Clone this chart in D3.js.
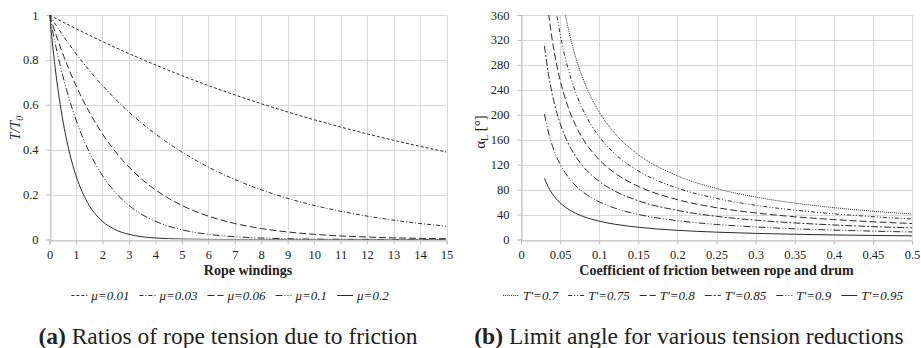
<!DOCTYPE html>
<html>
<head>
<meta charset="utf-8">
<script src="https://cdn.jsdelivr.net/npm/d3@7"></script>
<style>
  body { margin: 0; background: #fff; }
  svg { display: block; }
  text { fill: #222; }
</style>
</head>
<body>
<svg width="921" height="348"></svg>
<script>
// ---- panel (a): tension ratio vs rope windings
const windings = [0, 0.25, 0.5, 0.75, 1, 1.25, 1.5, 1.75, 2, 2.5, 3, 3.5, 4, 4.5, 5, 6, 7, 8, 9, 10, 11, 12, 13, 14, 15];
const muLabels = ["μ=0.01", "μ=0.03", "μ=0.06", "μ=0.1", "μ=0.2"];
const ratio001 = [1, 0.9844, 0.9691, 0.9540, 0.9391, 0.9245, 0.9101, 0.8959, 0.8819, 0.8546, 0.8282, 0.8026, 0.7778, 0.7537, 0.7304, 0.6859, 0.6442, 0.6049, 0.5681, 0.5335, 0.5010, 0.4705, 0.4419, 0.4150, 0.3897];
const ratio003 = [1, 0.9540, 0.9101, 0.8682, 0.8282, 0.7901, 0.7537, 0.7190, 0.6859, 0.6242, 0.5681, 0.5170, 0.4705, 0.4282, 0.3897, 0.3227, 0.2673, 0.2214, 0.1833, 0.1518, 0.1258, 0.1042, 0.0863, 0.0714, 0.0592];
const ratio006 = [1, 0.9101, 0.8282, 0.7537, 0.6859, 0.6242, 0.5681, 0.5170, 0.4705, 0.3897, 0.3227, 0.2673, 0.2214, 0.1833, 0.1518, 0.1042, 0.0714, 0.0490, 0.0336, 0.0231, 0.0158, 0.0109, 0.0074, 0.0051, 0.0035];
const ratio01 = [1, 0.8546, 0.7304, 0.6242, 0.5335, 0.4559, 0.3897, 0.3330, 0.2846, 0.2079, 0.1518, 0.1109, 0.0810, 0.0592, 0.0432, 0.0231, 0.0123, 0.0066, 0.0035, 0.0019, 0.0010, 0.0005, 0.0003, 0.0002, 0.0001];
const ratio02 = [1, 0.7304, 0.5335, 0.3897, 0.2846, 0.2079, 0.1518, 0.1109, 0.0810, 0.0432, 0.0231, 0.0123, 0.0066, 0.0035, 0.0019, 0.0005, 0.0002, 0, 0, 0, 0, 0, 0, 0, 0];
const windingTicks = d3.range(0, 16, 1);
const ratioTicks = [0, 0.2, 0.4, 0.6, 0.8, 1];

// ---- panel (b): limit angle vs friction coefficient
const friction = [0.03, 0.035, 0.04, 0.045, 0.05, 0.06, 0.07, 0.08, 0.09, 0.1, 0.12, 0.15, 0.2, 0.25, 0.3, 0.35, 0.4, 0.45, 0.5];
const tLabels = ["T'=0.7", "T'=0.75", "T'=0.8", "T'=0.85", "T'=0.9", "T'=0.95"];
const angle07 = [681.2, 583.9, 510.9, 454.1, 408.7, 340.6, 291.9, 255.5, 227.1, 204.4, 170.3, 136.2, 102.2, 81.7, 68.1, 58.4, 51.1, 45.4, 40.9];
const angle075 = [549.4, 470.9, 412.1, 366.3, 329.7, 274.7, 235.5, 206.0, 183.1, 164.8, 137.4, 109.9, 82.4, 65.9, 54.9, 47.1, 41.2, 36.6, 33.0];
const angle08 = [426.2, 365.3, 319.6, 284.1, 255.7, 213.1, 182.6, 159.8, 142.1, 127.9, 106.5, 85.2, 63.9, 51.1, 42.6, 36.5, 32.0, 28.4, 25.6];
const angle085 = [310.4, 266.1, 232.8, 206.9, 186.2, 155.2, 133.0, 116.4, 103.5, 93.1, 77.6, 62.1, 46.6, 37.2, 31.0, 26.6, 23.3, 20.7, 18.6];
const angle09 = [201.2, 172.5, 150.9, 134.1, 120.7, 100.6, 86.2, 75.5, 67.1, 60.4, 50.3, 40.2, 30.2, 24.1, 20.1, 17.2, 15.1, 13.4, 12.1];
const angle095 = [98.0, 84.0, 73.5, 65.3, 58.8, 49.0, 42.0, 36.7, 32.7, 29.4, 24.5, 19.6, 14.7, 11.8, 9.8, 8.4, 7.3, 6.5, 5.9];
const frictionTicks = [0, 0.05, 0.1, 0.15, 0.2, 0.25, 0.3, 0.35, 0.4, 0.45, 0.5];
const angleTicks = [0, 40, 80, 120, 160, 200, 240, 280, 320, 360];

const dashesA = ["3,2", "4,2,1,2", "7,3", "7,2,1,2,1,2", null];
const dashesB = ["1,1", "4,2,1,2,1,2", "7,3", "7,2,2,2", "7,2,1,2,1,2", null];

const SERIF = "'Liberation Serif', 'DejaVu Serif', 'Times New Roman', Times, serif";
const svg = d3.select('svg').style('font-family', SERIF);
const plotTop = 15, plotBottom = 239.5;

function drawPanel(opt) {
    let g = svg.append('g');
    let x = d3.scaleLinear().domain(opt.xDomain).range([opt.left, opt.right]);
    let y = d3.scaleLinear().domain(opt.yDomain).range([plotBottom, plotTop]);

    // grid
    g.append('g').selectAll('line').data(opt.xTicks).enter().append('line')
        .attr('x1', d => Math.round(x(d)) + 0.5).attr('x2', d => Math.round(x(d)) + 0.5)
        .attr('y1', plotTop).attr('y2', plotBottom)
        .attr('stroke', '#d9d9d9');
    g.append('g').selectAll('line').data(opt.yTicks).enter().append('line')
        .attr('x1', opt.left).attr('x2', opt.right)
        .attr('y1', d => Math.round(y(d)) + 0.5).attr('y2', d => Math.round(y(d)) + 0.5)
        .attr('stroke', '#d9d9d9');

    // axes
    let xAxis = g.append('g')
        .attr('transform', `translate(0,${Math.round(plotBottom) + 0.5})`)
        .call(d3.axisBottom(x).tickValues(opt.xTicks).tickFormat(opt.xFormat).tickSize(4).tickPadding(6));
    let yAxis = g.append('g')
        .attr('transform', `translate(${Math.round(opt.left) + 0.5},0)`)
        .call(d3.axisLeft(y).tickValues(opt.yTicks).tickFormat(opt.yFormat).tickSize(4).tickPadding(8));
    [xAxis, yAxis].forEach(a => {
        a.attr('font-family', SERIF).attr('font-size', 12.5);
        a.select('.domain').attr('stroke', '#bfbfbf');
        a.selectAll('.tick line').attr('stroke', '#bfbfbf');
        a.selectAll('.tick text').attr('fill', '#222');
    });

    // curves
    let clipId = 'clip' + opt.id;
    svg.append('clipPath').attr('id', clipId).append('rect')
        .attr('x', opt.left).attr('y', plotTop).attr('width', opt.right - opt.left).attr('height', plotBottom - plotTop);
    let line = d3.line().x(d => x(d[0])).y(d => y(d[1])).curve(d3.curveMonotoneX);
    g.append('g').attr('clip-path', `url(#${clipId})`)
        .selectAll('path').data(opt.series).enter().append('path')
        .attr('d', s => line(opt.xs.map((v, i) => [v, s[i]])))
        .attr('fill', 'none')
        .attr('stroke', '#2b2b2b')
        .attr('stroke-width', 1)
        .attr('stroke-dasharray', (s, i) => opt.dashes[i]);

    // x title
    g.append('text')
        .attr('x', (opt.left + opt.right) / 2).attr('y', 275)
        .attr('text-anchor', 'middle')
        .attr('font-size', 14).attr('font-weight', 'bold')
        .text(opt.xTitle);

    // legend, centred below the panel
    let lg = g.append('g');
    let cx = 0;
    opt.labels.forEach((lab, i) => {
        let item = lg.append('g').attr('transform', `translate(${cx},0)`);
        item.append('line').attr('x1', 0).attr('x2', 16).attr('y1', 0).attr('y2', 0)
            .attr('stroke', '#2b2b2b').attr('stroke-dasharray', opt.dashes[i]);
        let t = item.append('text').attr('x', 20).attr('y', 4.5)
            .attr('font-size', 13).attr('font-style', 'italic')
            .text(lab);
        cx += 20 + t.node().getComputedTextLength() + 10;
    });
    lg.attr('transform', `translate(${opt.legendCenter - (cx - 10) / 2},295.5)`);
    return g;
}

drawPanel({
    id: 'a', left: 49.5, right: 446.5,
    xDomain: [0, 15], yDomain: [0, 1],
    xTicks: windingTicks, yTicks: ratioTicks,
    xFormat: d3.format('d'), yFormat: d => d,
    xs: windings, series: [ratio001, ratio003, ratio006, ratio01, ratio02],
    dashes: dashesA, labels: muLabels,
    xTitle: 'Rope windings', legendCenter: 230
});

drawPanel({
    id: 'b', left: 521, right: 912,
    xDomain: [0, 0.5], yDomain: [0, 360],
    xTicks: frictionTicks, yTicks: angleTicks,
    xFormat: d => d, yFormat: d3.format('d'),
    xs: friction, series: [angle07, angle075, angle08, angle085, angle09, angle095],
    dashes: dashesB, labels: tLabels,
    xTitle: 'Coefficient of friction between rope and drum', legendCenter: 703
});

// y titles
let yt1 = svg.append('text')
    .attr('transform', 'translate(20,128) rotate(-90)')
    .attr('text-anchor', 'middle')
    .attr('font-size', 14).attr('font-style', 'italic');
yt1.append('tspan').text('T/T');
yt1.append('tspan').attr('dy', 3).attr('font-size', 10).text('0');

let yt2 = svg.append('text')
    .attr('transform', 'translate(485,132) rotate(-90)')
    .attr('text-anchor', 'middle')
    .attr('font-size', 15);
yt2.append('tspan').text('α');
yt2.append('tspan').attr('dy', 3).attr('font-size', 10).text('L');
yt2.append('tspan').attr('dy', -3).text(' [°]');

// captions
function caption(cx, tag, txt) {
    let t = svg.append('text').attr('x', cx).attr('y', 344)
        .attr('text-anchor', 'middle').attr('font-size', 23.5).attr('fill', '#000');
    t.append('tspan').attr('font-weight', 'bold').text(tag);
    t.append('tspan').text(' ' + txt);
}
caption(228, '(a)', 'Ratios of rope tension due to friction');
caption(689, '(b)', 'Limit angle for various tension reductions');
</script>
</body>
</html>
